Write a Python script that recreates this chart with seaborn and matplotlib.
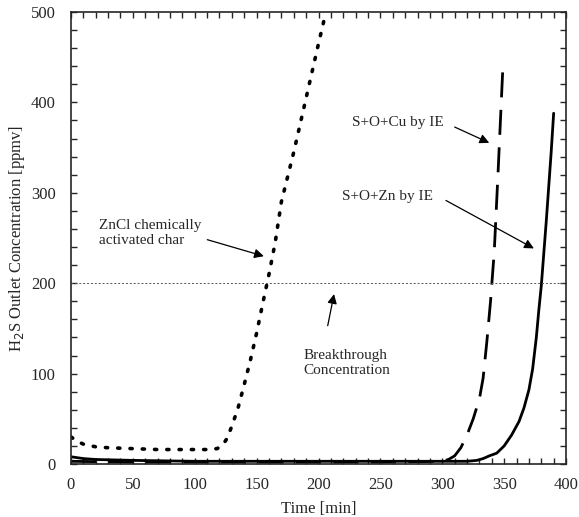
import numpy as np
import pandas as pd
import matplotlib
matplotlib.use("Agg")
import matplotlib.pyplot as plt
import seaborn as sns
from matplotlib.ticker import MultipleLocator

# data
zncl_t = [0, 5, 10, 20, 30, 50, 70, 90, 110, 118, 122, 126, 130, 135, 140, 145,
          150, 155, 160, 165, 170, 180, 190, 200, 206]
zncl_c = [30, 25, 22, 19, 18, 17, 16, 16, 16, 17, 20, 28, 42, 62, 88, 115,
          145, 178, 210, 245, 290, 345, 405, 465, 500]

cu_t = [0, 50, 100, 150, 200, 250, 300, 305, 310, 315, 320, 325, 330, 333,
        336, 339, 342, 345, 349]
cu_c = [3, 2, 2, 2, 2, 2, 3, 5, 9, 18, 32, 50, 72, 95, 135, 180, 235, 320, 440]

zn_t = [0, 10, 20, 50, 100, 200, 300, 320, 328, 333, 338, 344, 350, 356, 362,
        366, 370, 373, 376, 378, 380, 384, 388, 390]
zn_c = [8, 6, 5, 4, 3, 3, 3, 3, 4, 6, 9, 12, 20, 32, 47, 62, 82, 105, 140,
        170, 197, 268, 345, 388]

breakthrough = 200

sns.set_style("ticks")
plt.rcParams["font.family"] = ["Liberation Serif", "DejaVu Serif"]

fig = plt.figure(figsize=(5.79, 5.17), dpi=100)
ax = fig.add_axes([0.1226, 0.1025, 0.855, 0.8743])

sns.lineplot(x=zncl_t, y=zncl_c, ax=ax, color="black", lw=2.6,
             linestyle=(0, (0.6, 2.8)), dash_capstyle="round")
sns.lineplot(x=cu_t, y=cu_c, ax=ax, color="black", lw=2.0,
             linestyle=(0, (9, 4.5)))
sns.lineplot(x=zn_t, y=zn_c, ax=ax, color="black", lw=2.0)
ax.axhline(breakthrough, color="#555555", lw=0.7, linestyle=(0, (2, 2)))

ax.set_xlim(0, 400)
ax.set_ylim(0, 500)
ax.xaxis.set_major_locator(MultipleLocator(50))
ax.xaxis.set_minor_locator(MultipleLocator(10))
ax.yaxis.set_major_locator(MultipleLocator(100))
ax.yaxis.set_minor_locator(MultipleLocator(20))
ax.tick_params(which="both", direction="in", top=True, right=True,
               labelsize=12, width=1, length=4.5)
ax.tick_params(axis="x", pad=9)
ax.tick_params(axis="y", pad=11)
for s in ax.spines.values():
    s.set_linewidth(1.2)

ax.set_xlabel("Time [min]", fontsize=12, labelpad=6)
ax.set_ylabel("H$_2$S Outlet Concentration [ppmv]", fontsize=12, labelpad=3)

arrow = dict(arrowstyle="-|>", color="black", lw=0.9, mutation_scale=14)
ax.annotate("ZnCl chemically\nactivated char", xy=(23, 255),
            fontsize=11, va="center", ha="left")
ax.annotate("", xy=(158, 229), xytext=(108, 249), arrowprops=arrow)
ax.annotate("S+O+Cu by IE", xy=(227, 378),
            fontsize=11, va="center", ha="left")
ax.annotate("", xy=(340, 354), xytext=(308, 374), arrowprops=arrow)
ax.annotate("S+O+Zn by IE", xy=(219, 296),
            fontsize=11, va="center", ha="left")
ax.annotate("", xy=(376, 237), xytext=(301, 293), arrowprops=arrow)
ax.annotate("Breakthrough\nConcentration", xy=(188, 112),
            fontsize=11, va="center", ha="left")
ax.annotate("", xy=(213, 191), xytext=(207, 150), arrowprops=arrow)

fig.savefig("out.png", dpi=100)
